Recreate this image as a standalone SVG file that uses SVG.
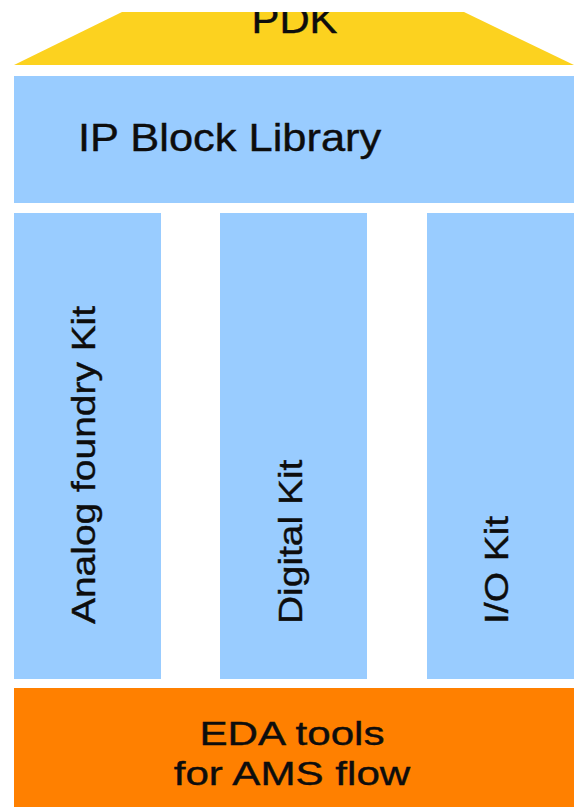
<svg xmlns="http://www.w3.org/2000/svg" width="574" height="807" viewBox="0 0 574 807">
<style>
.t{font-family:"Liberation Sans",Arial,sans-serif;fill:#0d0d0d;stroke:#0d0d0d;stroke-width:0.4;}
.blue{fill:#99CCFF;}
</style>
<defs>
<clipPath id="topclip"><rect x="0" y="12" width="574" height="60"/></clipPath>
</defs>
<rect width="574" height="807" fill="#ffffff"/>
<g id="pdk" clip-path="url(#topclip)">
<polygon points="122,12 464,12 574,65 14,65" fill="#FCD21F"/>
<text class="t" font-size="38" text-anchor="middle" transform="translate(294.5,33) scale(1.1,1)">PDK</text>
</g>
<g id="ip-block-library">
<rect class="blue" x="14" y="76" width="560" height="127"/>
<text class="t" font-size="38" transform="translate(78,151) scale(1.143,1)">IP Block Library</text>
</g>
<g id="analog-kit">
<rect class="blue" x="14" y="213" width="147" height="466"/>
<text class="t" font-size="33" transform="translate(95,624) rotate(-90) scale(1.18,1)">Analog foundry Kit</text>
</g>
<g id="digital-kit">
<rect class="blue" x="220" y="213" width="147" height="466"/>
<text class="t" font-size="33" transform="translate(301.5,624) rotate(-90) scale(1.18,1)">Digital Kit</text>
</g>
<g id="io-kit">
<rect class="blue" x="427" y="213" width="147" height="466"/>
<text class="t" font-size="33" transform="translate(508,624) rotate(-90) scale(1.18,1)">I/O Kit</text>
</g>
<g id="eda-tools">
<rect x="14" y="688" width="560" height="119" fill="#FF8000"/>
<text class="t" font-size="34" text-anchor="middle" transform="translate(292,745) scale(1.24,1)">EDA tools</text>
<text class="t" font-size="34" text-anchor="middle" transform="translate(292,785) scale(1.24,1)">for AMS flow</text>
</g>
<g id="connectors"></g>
</svg>
